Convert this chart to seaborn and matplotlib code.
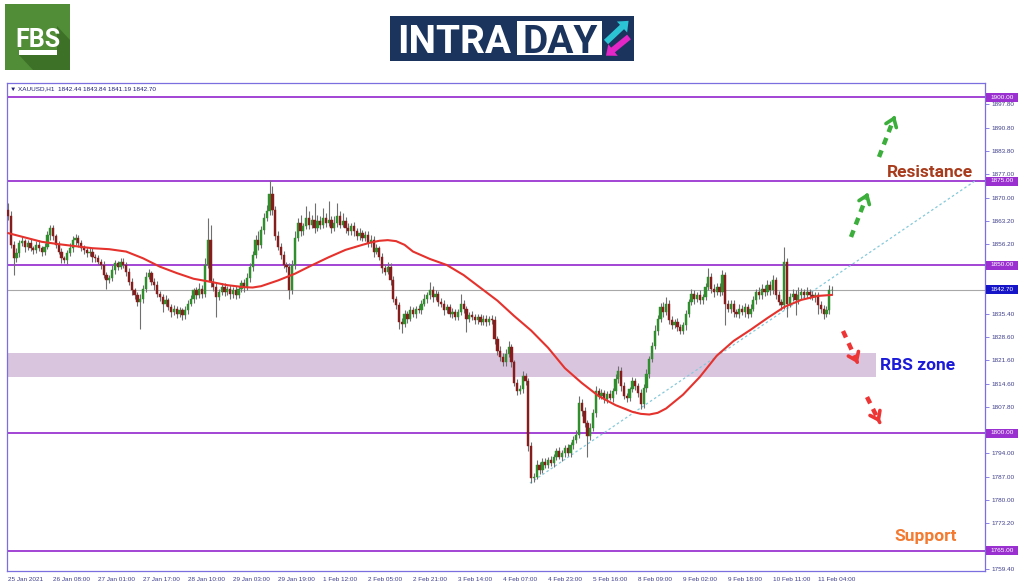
import numpy as np
import pandas as pd
import matplotlib
matplotlib.use("Agg")
import matplotlib.pyplot as plt
import matplotlib.transforms as mtransforms
from matplotlib.patches import Rectangle, Polygon, FancyArrow
import seaborn as sns

# ---------------- data ----------------
open0 = 1866.5
closes = [
    1864.5, 1856.0, 1852.0, 1853.5, 1856.5, 1857.0, 1855.5, 1856.5, 1855.0, 1854.5, 1856.0, 1855.0, 1854.0, 1855.5, 1859.0, 1861.0,
    1858.5, 1856.0, 1854.0, 1852.0, 1851.5, 1853.5, 1855.0, 1857.5, 1858.0, 1856.5, 1855.0, 1854.5, 1853.5, 1854.0, 1852.5, 1852.0,
    1851.0, 1850.0, 1847.0, 1845.5, 1846.0, 1848.5, 1850.5, 1849.5, 1851.0, 1850.0, 1848.0, 1845.0, 1842.5, 1841.0, 1839.0, 1840.0,
    1843.0, 1846.5, 1847.5, 1845.0, 1844.0, 1841.5, 1840.5, 1838.5, 1839.5, 1837.5, 1836.0, 1837.0, 1835.5, 1836.5, 1835.0, 1836.5,
    1838.5, 1840.0, 1842.5, 1841.0, 1843.0, 1841.5, 1850.0, 1857.5, 1845.0, 1843.5, 1840.5, 1842.0, 1843.5, 1842.0, 1843.0, 1841.5,
    1842.5, 1841.0, 1843.0, 1844.5, 1843.5, 1846.0, 1849.5, 1853.0, 1857.5, 1856.0, 1860.5, 1864.0, 1866.0, 1871.0, 1866.5, 1858.5,
    1855.5, 1853.0, 1850.0, 1849.5, 1842.5, 1850.0, 1858.0, 1862.5, 1860.0, 1861.5, 1864.0, 1862.0, 1863.5, 1861.0, 1863.0, 1862.0,
    1864.0, 1862.5, 1863.5, 1861.0, 1862.5, 1864.5, 1862.0, 1863.0, 1861.0, 1860.0, 1861.5, 1860.0, 1858.5, 1859.5, 1858.0, 1859.0,
    1856.5, 1857.5, 1854.0, 1855.0, 1852.5, 1849.0, 1848.0, 1849.5, 1845.5, 1840.0, 1838.0, 1833.0, 1832.5, 1835.5, 1834.0, 1836.5,
    1835.5, 1837.0, 1836.5, 1838.5, 1840.0, 1841.0, 1842.5, 1840.5, 1841.5, 1839.0, 1838.5, 1836.5, 1837.5, 1835.5, 1836.0, 1834.5,
    1836.0, 1838.5, 1837.0, 1834.0, 1835.0, 1834.5, 1833.5, 1834.5, 1833.0, 1834.0, 1833.0, 1834.0, 1833.5, 1828.0, 1824.5, 1822.5,
    1821.0, 1823.5, 1825.5, 1821.0, 1815.0, 1812.5, 1813.0, 1817.0, 1815.5, 1796.0, 1786.5, 1787.0, 1790.5, 1789.0, 1791.5, 1790.5,
    1792.0, 1791.0, 1793.0, 1794.5, 1793.0, 1794.0, 1795.5, 1794.0, 1796.5, 1798.0, 1799.5, 1809.0, 1806.5, 1803.0, 1799.0, 1801.5,
    1806.0, 1812.5, 1811.0, 1812.0, 1810.0, 1811.5, 1810.5, 1812.5, 1816.0, 1818.5, 1814.0, 1811.0, 1810.5, 1813.0, 1815.5, 1814.0,
    1812.0, 1808.5, 1813.5, 1817.5, 1822.0, 1826.0, 1830.5, 1834.0, 1837.5, 1836.0, 1838.5, 1833.5, 1832.0, 1833.0, 1831.5, 1830.5,
    1832.0, 1835.5, 1839.0, 1841.5, 1840.0, 1841.0, 1839.5, 1840.5, 1843.5, 1846.5, 1843.0, 1842.0, 1843.5, 1842.0, 1847.0, 1838.5,
    1837.0, 1838.5, 1836.0, 1835.5, 1837.0, 1836.0, 1837.5, 1835.5, 1837.0, 1839.5, 1842.0, 1841.0, 1843.0, 1842.0, 1844.0, 1842.5,
    1845.5, 1841.0, 1839.0, 1838.0, 1851.0, 1838.5, 1840.5, 1841.5, 1839.5, 1841.0, 1842.0, 1841.0, 1842.0, 1841.0, 1840.5, 1841.0,
    1838.0, 1837.0, 1835.5, 1836.5, 1842.44, 1842.70,
]
upper_wick = [
    2.0, 1.5, 1.0, 1.5, 1.0, 1.5, 0.8, 1.0, 1.2, 0.8, 1.0, 1.5, 0.8, 1.0, 1.2, 1.0,
    1.0, 0.8, 1.2, 1.0, 0.8, 1.0, 1.5, 1.0, 1.2, 0.8, 1.0, 1.0, 0.8, 1.2, 1.0, 0.8,
    1.0, 0.8, 1.2, 0.8, 1.0, 1.5, 1.0, 0.8, 1.2, 1.0, 0.8, 1.0, 1.2, 0.8, 1.0, 1.5,
    1.0, 1.5, 1.2, 0.8, 1.0, 1.2, 0.8, 1.0, 1.5, 0.8, 1.0, 1.2, 0.8, 1.0, 0.8, 1.2,
    1.0, 1.2, 0.8, 1.0, 1.5, 1.0, 2.0, 6.5, 4.5, 1.0, 1.2, 0.8, 1.0, 1.2, 0.8, 1.0,
    1.0, 1.2, 0.8, 1.0, 1.2, 1.5, 1.0, 1.2, 1.5, 2.5, 1.0, 1.5, 2.0, 4.3, 2.5, 1.0,
    1.5, 1.0, 1.2, 0.8, 1.0, 1.5, 2.0, 1.5, 2.5, 1.0, 3.5, 2.0, 1.5, 5.0, 2.0, 1.5,
    3.0, 1.5, 5.5, 1.2, 2.0, 4.0, 1.5, 2.5, 1.2, 1.5, 1.0, 1.2, 1.0, 1.5, 1.0, 1.2,
    1.0, 1.5, 1.0, 1.2, 0.8, 1.0, 1.2, 1.5, 1.0, 1.2, 0.8, 1.0, 1.2, 1.0, 0.8, 1.2,
    1.0, 0.8, 1.2, 1.0, 1.5, 1.0, 2.5, 1.2, 1.0, 0.8, 1.2, 1.0, 0.8, 1.0, 1.2, 0.8,
    1.0, 3.0, 1.2, 0.8, 1.0, 1.2, 0.8, 1.0, 0.8, 1.2, 1.0, 0.8, 1.0, 1.2, 1.0, 1.5,
    1.2, 1.5, 2.0, 1.0, 0.8, 1.0, 1.2, 1.5, 1.0, 1.0, 1.2, 1.0, 1.5, 1.0, 1.2, 1.0,
    1.0, 1.2, 0.8, 1.0, 1.2, 0.8, 1.0, 1.2, 0.8, 1.0, 1.5, 2.0, 1.0, 1.2, 1.0, 1.5,
    1.2, 1.5, 1.0, 1.2, 0.8, 1.0, 1.2, 1.0, 1.5, 1.5, 1.0, 1.2, 1.0, 0.8, 1.2, 1.0,
    1.0, 1.2, 1.0, 1.5, 1.0, 1.2, 1.5, 1.0, 1.2, 1.5, 2.0, 1.0, 1.2, 1.0, 1.2, 1.0,
    1.0, 1.2, 1.0, 1.5, 1.2, 1.0, 1.5, 1.0, 1.2, 2.5, 1.0, 1.2, 1.0, 1.2, 1.5, 1.0,
    1.2, 1.0, 1.2, 1.0, 1.5, 1.0, 1.2, 1.0, 1.5, 1.2, 1.0, 1.5, 1.2, 1.0, 1.5, 1.2,
    1.5, 1.0, 1.2, 1.0, 4.5, 1.0, 1.2, 1.5, 1.0, 2.5, 1.2, 1.0, 1.5, 1.0, 1.2, 1.0,
    1.0, 1.2, 1.0, 1.2, 1.5, 1.14,
]
lower_wick = [
    1.0, 1.0, 5.0, 1.2, 1.0, 0.8, 1.5, 1.0, 0.8, 1.2, 1.0, 0.8, 1.2, 1.0, 0.8, 1.5,
    1.2, 1.0, 0.8, 1.5, 1.0, 1.2, 0.8, 1.0, 1.5, 1.0, 0.8, 1.2, 1.0, 0.8, 1.5, 1.0,
    1.0, 1.2, 0.8, 2.5, 1.0, 0.8, 1.2, 1.0, 0.8, 1.0, 1.2, 1.0, 1.5, 1.0, 1.2, 8.0,
    1.2, 1.0, 0.8, 1.0, 1.5, 1.0, 1.2, 2.5, 0.8, 1.0, 1.5, 0.8, 1.2, 1.0, 1.5, 1.0,
    1.0, 0.8, 1.2, 1.0, 0.8, 1.2, 1.0, 1.0, 1.5, 1.2, 6.0, 1.0, 0.8, 1.2, 1.0, 1.5,
    1.2, 1.0, 0.8, 1.0, 1.5, 0.8, 1.0, 1.2, 1.0, 1.5, 0.8, 1.2, 1.0, 1.0, 1.5, 1.0,
    1.0, 1.2, 1.0, 1.5, 2.5, 1.0, 1.2, 1.0, 1.5, 1.0, 0.8, 1.2, 1.0, 1.5, 1.0, 1.2,
    1.0, 1.2, 1.0, 1.5, 1.0, 1.2, 1.0, 0.8, 1.5, 1.2, 1.0, 1.5, 1.0, 1.2, 0.8, 1.0,
    1.2, 1.0, 1.5, 0.8, 1.0, 1.5, 1.0, 0.8, 1.5, 1.0, 1.2, 2.0, 2.7, 1.0, 1.2, 0.8,
    1.0, 1.2, 0.8, 1.0, 0.8, 1.2, 1.0, 1.5, 0.8, 1.2, 1.0, 1.5, 0.8, 1.0, 1.2, 1.0,
    0.8, 1.0, 1.2, 4.0, 1.0, 0.8, 1.2, 1.0, 0.8, 1.0, 1.2, 0.8, 1.0, 1.5, 1.2, 1.0,
    1.0, 1.2, 1.0, 1.5, 1.0, 1.2, 0.8, 1.0, 1.2, 1.5, 1.5, 1.0, 0.8, 1.2, 1.0, 0.8,
    1.0, 0.8, 1.2, 1.0, 0.8, 1.2, 1.0, 0.8, 1.0, 1.2, 1.0, 1.0, 1.5, 1.2, 6.0, 1.0,
    1.0, 1.2, 1.0, 0.8, 1.2, 1.0, 0.8, 1.2, 1.0, 1.0, 1.5, 1.0, 1.2, 1.0, 0.8, 1.2,
    1.2, 1.5, 1.0, 1.2, 1.0, 0.8, 1.0, 1.2, 1.0, 1.5, 1.0, 1.2, 1.0, 0.8, 1.2, 1.0,
    1.0, 1.2, 1.0, 0.8, 1.5, 1.0, 1.2, 1.0, 0.8, 1.0, 1.2, 1.5, 1.0, 1.2, 1.0, 6.5,
    1.0, 1.2, 1.5, 1.0, 1.2, 1.0, 1.5, 1.2, 1.0, 0.8, 1.0, 1.2, 1.0, 1.2, 1.0, 1.5,
    1.0, 1.2, 1.0, 1.5, 1.0, 4.0, 1.0, 1.2, 4.5, 1.0, 1.2, 1.0, 0.8, 1.2, 1.0, 1.5,
    2.5, 1.2, 1.5, 1.0, 1.0, 1.25,
]
ma_bar = [0, 6, 12, 18, 24, 30, 36, 42, 48, 54, 60, 66, 72, 78, 84, 87, 90, 96, 102, 108, 114,
          120, 126, 129, 132, 135, 138, 141, 144, 150, 156, 162, 168, 174, 180, 186, 192, 198,
          204, 210, 216, 222, 225, 228, 231, 234, 240, 246, 252, 258, 264, 270, 276, 282, 288, 293]
ma_value = [1859.5, 1858.2, 1856.9, 1856.2, 1855.6, 1855.0, 1854.7, 1854.0, 1852.0, 1849.5,
            1847.6, 1845.9, 1845.0, 1844.0, 1843.4, 1843.3, 1843.7, 1845.4, 1847.4, 1849.9, 1852.3,
            1854.5, 1856.0, 1856.7, 1857.2, 1857.4, 1857.1, 1856.0, 1854.0, 1851.8, 1850.0, 1847.0,
            1843.2, 1839.4, 1834.8, 1830.5, 1825.4, 1819.3, 1814.9, 1811.0, 1808.3, 1806.3, 1805.7,
            1805.5, 1806.0, 1807.3, 1811.4, 1816.7, 1823.0, 1827.4, 1830.7, 1834.2, 1837.5, 1839.6,
            1840.8, 1841.1]
xtick_bars = [0, 16, 32, 48, 64, 80, 96, 112, 128, 144, 160, 176, 192, 208, 224, 240, 256, 272, 288]
xtick_labels = ["25 Jan 2021", "26 Jan 08:00", "27 Jan 01:00", "27 Jan 17:00", "28 Jan 10:00",
                "29 Jan 03:00", "29 Jan 19:00", "1 Feb 12:00", "2 Feb 05:00", "2 Feb 21:00",
                "3 Feb 14:00", "4 Feb 07:00", "4 Feb 23:00", "5 Feb 16:00", "8 Feb 09:00",
                "9 Feb 02:00", "9 Feb 18:00", "10 Feb 11:00", "11 Feb 04:00"]
ytick_values = [1897.80, 1890.80, 1883.80, 1877.00, 1870.00, 1863.20, 1856.20, 1835.40, 1828.60,
                1821.60, 1814.60, 1807.80, 1794.00, 1787.00, 1780.00, 1773.20, 1759.40]
level_prices = [1900.0, 1875.0, 1850.0, 1800.0, 1765.0]
current_price = 1842.70
rbs_zone = [1816.7, 1823.8]
rbs_zone_end_bar = 308.6
trend_bars = [185.6, 343.8]
trend_prices = [1785.1, 1875.0]
header = "\u25bc XAUUSD,H1  1842.44 1843.84 1841.19 1842.70"

# ---------------- style ----------------
sns.set_style("white")
plt.rcParams['font.family'] = ['Liberation Sans', 'DejaVu Sans']

W, H = 1024, 587
fig = plt.figure(figsize=(W / 100, H / 100), dpi=100)
fig.patch.set_facecolor('white')

# pixel overlay for logos
lax = fig.add_axes([0, 0, 1, 1], zorder=0)
lax.set_xlim(0, W)
lax.set_ylim(H, 0)
lax.axis('off')

# FBS logo
lax.add_patch(Rectangle((5, 4), 65, 66, fc='#508d36', ec='none'))
lax.add_patch(Polygon([(19, 55), (57, 55), (57, 26), (70, 40), (70, 70), (33, 70)],
                      closed=True, fc='#3d7128', ec='none'))
lax.text(38, 47, 'FBS', color='white', fontsize=18, fontweight='bold',
         family=['Roboto', 'DejaVu Sans'], ha='center', va='baseline')
lax.add_patch(Rectangle((19, 50), 38, 5, fc='white', ec='none'))

# INTRADAY logo
lax.add_patch(Rectangle((390, 16), 244, 45, fc='#1b345e', ec='none'))
lax.add_patch(Rectangle((517, 21), 85, 34, fc='white', ec='none'))
lax.text(454, 53, 'INTRA', color='white', fontsize=28, fontweight='bold',
         family=['Roboto', 'DejaVu Sans'], ha='center', va='baseline')
lax.text(560, 53, 'DAY', color='#1b345e', fontsize=28, fontweight='bold',
         family=['Roboto', 'DejaVu Sans'], ha='center', va='baseline')
lax.add_patch(FancyArrow(606, 42, 16, -15, width=6, head_width=15, head_length=9,
                         length_includes_head=False, fc='#2bc4d4', ec='none'))
lax.add_patch(FancyArrow(629, 37, -16, 13, width=6, head_width=15, head_length=9,
                         length_includes_head=False, fc='#e426c6', ec='none'))

# ---------------- main chart ----------------
def px2bar(x):
    return (x - 8) / 2.8125

def px2price(y):
    return 1900 - (y - 97) / 3.36

ax = fig.add_axes([7 / W, 1 - 571 / H, 978 / W, 488 / H], zorder=2)
ax.set_facecolor('white')
ax.set_xlim(px2bar(7), px2bar(985))
ax.set_ylim(px2price(571), px2price(83))

frame_col = '#7b6fe0'
for s in ax.spines.values():
    s.set_color(frame_col)
    s.set_linewidth(0.9)

c = np.array(closes)
o = np.array([open0] + closes[:-1])
idx = np.arange(len(c))
hi = np.maximum(o, c) + np.array(upper_wick)
lo = np.minimum(o, c) - np.array(lower_wick)
up = c >= o
body_col = np.where(up, '#2f8f2c', '#861c1c')

# RBS zone
ax.add_patch(Rectangle((ax.get_xlim()[0], rbs_zone[0]), rbs_zone_end_bar - ax.get_xlim()[0],
                       rbs_zone[1] - rbs_zone[0], fc='#dac5df', ec='none', zorder=1))

# levels
for lv in level_prices:
    ax.axhline(lv, color='#9b35d2', lw=1.3, zorder=2)
ax.axhline(current_price, color='#a8a8a8', lw=0.8, zorder=2)

# trend line
sns.lineplot(x=trend_bars, y=trend_prices, ax=ax, color='#86c9da', lw=0.9,
             linestyle=(0, (2, 2)), zorder=2)

# candles
ax.vlines(idx, lo, hi, color='#6f6f6f', lw=0.8, zorder=3)
ax.bar(idx, np.maximum(np.abs(c - o), 0.15), bottom=np.minimum(o, c), width=0.8,
       color=body_col, edgecolor=body_col, lw=0.3, zorder=4)

# moving average
ma_df = pd.DataFrame({'bar': ma_bar, 'ma': ma_value})
sns.lineplot(data=ma_df, x='bar', y='ma', ax=ax, color='#e5322d', lw=1.5, zorder=5)

# axes ticks
ax.yaxis.tick_right()
ax.set_yticks(ytick_values)
ax.set_yticklabels([f"{v:.2f}" for v in ytick_values])
ax.tick_params(axis='y', length=3, width=0.6, color=frame_col, labelcolor='#3f3f8c',
               labelsize=4.6, pad=1.5, right=True, left=False)
ax.set_xticks(xtick_bars)
ax.set_xticklabels(xtick_labels, ha='left')
ax.tick_params(axis='x', length=3, width=0.6, color=frame_col, labelcolor='#3f3f8c',
               labelsize=4.6, pad=1.5)
ax.set_xlabel('')
ax.set_ylabel('')

# price boxes on right axis
blend = mtransforms.blended_transform_factory(ax.transAxes, ax.transData)
box_w = 32 / 978
box_h = 9 / 3.36
for lv in level_prices + [current_price]:
    fc = '#1616c8' if lv == current_price else '#9b30d0'
    ax.add_patch(Rectangle((1.001, lv - box_h / 2), box_w, box_h, transform=blend,
                           fc=fc, ec='none', clip_on=False, zorder=6))
    ax.text(1.001 + box_w / 2, lv, f"{lv:.2f}", transform=blend, ha='center', va='center',
            fontsize=4.6, color='white', clip_on=False, zorder=7)

# header text
ax.text(3 / 978, 1 - 6 / 488, header, transform=ax.transAxes, ha='left', va='center',
        fontsize=4.6, color='#20207a', zorder=7)

# annotation texts
tf = ['Roboto', 'DejaVu Sans']
ax.text(px2bar(930), px2price(172), 'Resistance', color='#a83b1c', fontsize=12.5,
        fontweight='bold', family=tf, ha='center', va='center', zorder=7)
ax.text(px2bar(918), px2price(365), 'RBS zone', color='#1a1ad8', fontsize=12.5,
        fontweight='bold', family=tf, ha='center', va='center', zorder=7)
ax.text(px2bar(926), px2price(537), 'Support', color='#f47a30', fontsize=12.5,
        fontweight='bold', family=tf, ha='center', va='center', zorder=7)

# dashed direction arrows
def dashed_arrow(p0, p1, color):
    x0, y0 = px2bar(p0[0]), px2price(p0[1])
    x1, y1 = px2bar(p1[0]), px2price(p1[1])
    xm, ym = x0 + (x1 - x0) * 0.82, y0 + (y1 - y0) * 0.82
    ax.plot([x0, xm], [y0, ym], color=color, lw=3.2, linestyle=(0, (1.6, 1.4)),
            solid_capstyle='butt', zorder=7)
    ax.annotate('', xy=(x1, y1), xytext=(xm, ym),
                arrowprops=dict(arrowstyle='->,head_length=0.55,head_width=0.4',
                                color=color, lw=2.6), zorder=7)

dashed_arrow((851, 237), (869, 190), '#3cae3c')
dashed_arrow((879, 157), (896, 113), '#3cae3c')
dashed_arrow((843, 331), (859, 366), '#ee3535')
dashed_arrow((867, 397), (881, 425), '#ee3535')

fig.savefig('out.png', dpi=100)
